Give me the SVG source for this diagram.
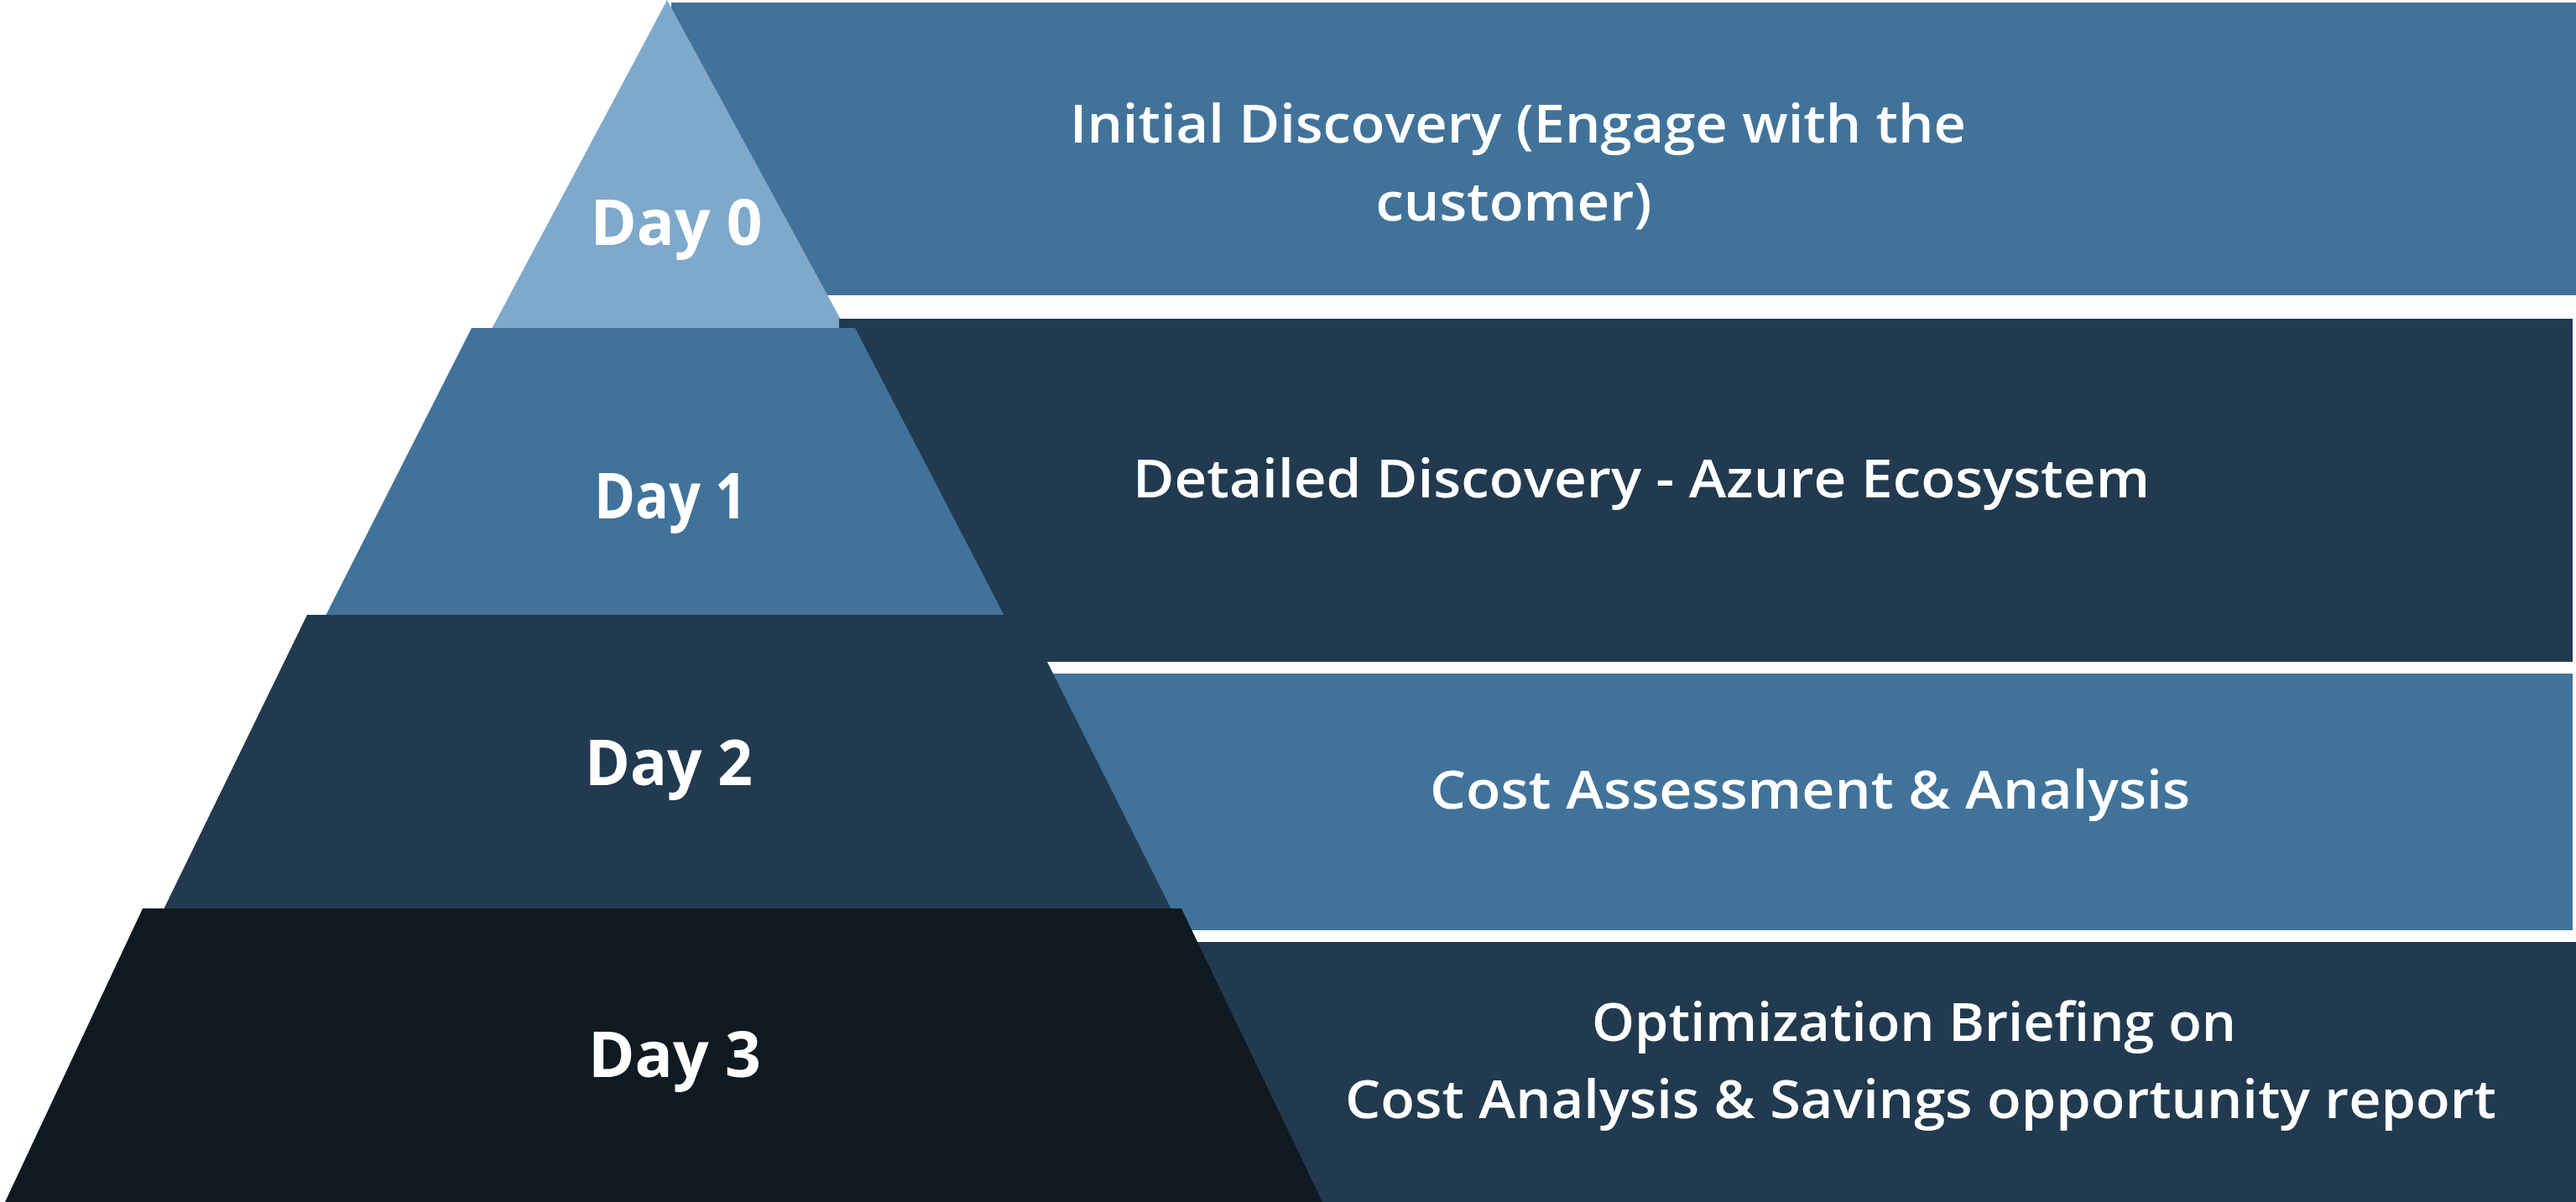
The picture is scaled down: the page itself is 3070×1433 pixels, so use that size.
<svg xmlns="http://www.w3.org/2000/svg" width="3070" height="1433" viewBox="0 0 3070 1433">
  <style>
    .mid { fill: #41739A; }
    .dark { fill: #213A4F; }
    .light { fill: #7FA9CB; }
    .darkest { fill: #0F1921; }
    .day { font-family: "Open Sans", "Liberation Sans", sans-serif; font-weight: 700; font-size: 76px; fill: #FFFFFF; text-anchor: middle; }
    .desc { font-family: "Open Sans", "Liberation Sans", sans-serif; font-weight: 600; font-size: 64px; fill: #FFFFFF; text-anchor: middle; }
  </style>
  <rect width="3070" height="1433" fill="#FFFFFF"/>
  <g id="connectors"></g>
  <g id="day0">
    <rect class="mid" x="800" y="3" width="2270" height="349"/>
    <polygon class="light" points="795,0 1008,392 586,392"/>
    <text class="desc" x="1809" y="170" textLength="1068" lengthAdjust="spacingAndGlyphs">Initial Discovery (Engage with the</text>
    <text class="desc" x="1804" y="263" textLength="329" lengthAdjust="spacingAndGlyphs">customer)</text>
    <text class="day" x="806" y="292" textLength="205" lengthAdjust="spacingAndGlyphs">Day 0</text>
  </g>
  <g id="day1">
    <rect class="dark" x="1000" y="380" width="2066" height="409"/>
    <polygon class="mid" points="562,391 1019,391 1197,734 388,734"/>
    <text class="desc" x="1956" y="593" textLength="1212" lengthAdjust="spacingAndGlyphs">Detailed Discovery - Azure Ecosystem</text>
    <text class="day" x="799" y="618" textLength="182" lengthAdjust="spacingAndGlyphs">Day 1</text>
  </g>
  <g id="day2">
    <rect class="mid" x="1240" y="803" width="1826" height="306"/>
    <polygon class="dark" points="366,733 1220,733 1396,1084 195,1084"/>
    <text class="desc" x="2157" y="964" textLength="906" lengthAdjust="spacingAndGlyphs">Cost Assessment &amp; Analysis</text>
    <text class="day" x="797" y="936" textLength="200" lengthAdjust="spacingAndGlyphs">Day 2</text>
  </g>
  <g id="day3">
    <rect class="dark" x="1420" y="1123" width="1650" height="310"/>
    <polygon class="darkest" points="170,1083 1408,1083 1576,1433 6,1433"/>
    <text class="desc" x="2281" y="1241" textLength="768" lengthAdjust="spacingAndGlyphs">Optimization Briefing on</text>
    <text class="desc" x="2289" y="1333" textLength="1372" lengthAdjust="spacingAndGlyphs">Cost Analysis &amp; Savings opportunity report</text>
    <text class="day" x="804" y="1284" textLength="206" lengthAdjust="spacingAndGlyphs">Day 3</text>
  </g>
</svg>
